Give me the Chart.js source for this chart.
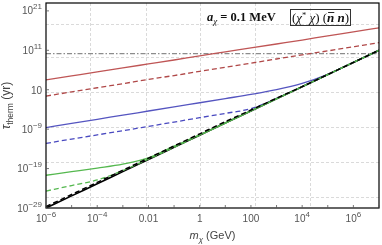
<!DOCTYPE html>
<html>
<head>
<meta charset="utf-8">
<script src="https://cdn.jsdelivr.net/npm/chart.js@4.4.0/dist/chart.umd.min.js"></script>
<style>
  html, body { margin: 0; padding: 0; background: #fff; }
</style>
</head>
<body>
<canvas id="myChart" width="382" height="245"></canvas>
<script>
// masses (GeV), one point per decade
const massGeV = [1e-6, 1e-5, 1e-4, 1e-3, 1e-2, 1e-1, 1, 10, 100, 1e3, 1e4, 1e5, 1e6, 1e7];

// thermalisation time (yr)
const redSolid    = [3.2e3, 3.2e4, 3.2e5, 3.5e6, 3.5e7, 3.5e8, 4e9, 4e10, 4e11, 4e12, 4e13, 4.5e14, 4.5e15, 5e16];
const redDashed   = [0.25, 2.8, 32, 350, 4e3, 4e4, 4.5e5, 5e6, 5.6e7, 6.3e8, 7e9, 7e10, 8e11, 9e12];
const blueSolid   = [2.5e-9, 2.8e-8, 3.2e-7, 3.5e-6, 4e-5, 4.5e-4, 5e-3, 0.056, 0.63, 10, 400, 8e4, 8.4e7, 1e11];
const blueDashed  = [2.5e-13, 3e-12, 3.5e-11, 4e-10, 5e-9, 6.3e-8, 8e-7, 1e-5, 1.6e-4, 0.063, 59, 7e4, 8.4e7, 1e11];
const greenSolid  = [2e-21, 1.6e-20, 1.3e-19, 1.3e-18, 5e-17, 5e-14, 3.5e-11, 3.5e-8, 4.2e-5, 0.05, 59, 7e4, 8.4e7, 1e11];
const greenDashed = [2e-25, 5e-24, 1.3e-22, 3.2e-20, 2.5e-17, 2.4e-14, 2.9e-11, 3.5e-8, 4.2e-5, 0.05, 59, 7e4, 8.4e7, 1e11];
const blackSolid  = [1e-29, 1.2e-26, 1.4e-23, 1.7e-20, 2e-17, 2.4e-14, 2.9e-11, 3.5e-8, 4.2e-5, 0.05, 59, 7e4, 8.4e7, 1e11];
const blackDashed = [2.2e-29, 2.6e-26, 3.1e-23, 3.8e-20, 4.5e-17, 5.4e-14, 6.5e-11, 7.8e-8, 7e-5, 0.07, 59, 7e4, 8.4e7, 1e11];

// age of the universe
const ageX = [1e-6, 1e7];
const ageY = [1.4e10, 1.4e10];

const xTicks = [1e-6, 1e-4, 0.01, 1, 100, 1e4, 1e6];
const xTickLabels = ['10^−6', '10^−4', '0.01', '1', '100', '10^4', '10^6'];
const yTicks = [1e-29, 1e-19, 1e-9, 10, 1e11, 1e21];
const yTickLabels = ['10^−29', '10^−19', '10^−9', '10', '10^11', '10^21'];
const xMinor = [1e-5, 1e-3, 0.1, 10, 1e3, 1e5, 1e7];
const xGrid = [5e-5, 8e-3, 1, 140, 2e4];
const yGrid = [6e-27, 5e-18, 4e-9, 2.5, 2e9, 5e17];

const SANS = '"Liberation Sans", Arial, sans-serif';
const SERIF = '"Liberation Serif", "Times New Roman", serif';

const pts = (xs, ys) => xs.map((x, i) => ({x: x, y: ys[i]}));

// draw a list of text pieces in a row, each with its own font / offset
function drawRuns(ctx, runs, x, y, align) {
    let total = 0;
    runs.forEach(r => { ctx.font = r.font; r.w = ctx.measureText(r.t).width; total += r.w; });
    let cx = align == 'center' ? x - total / 2 : (align == 'right' ? x - total : x);
    runs.forEach(r => {
        ctx.font = r.font;
        ctx.textAlign = 'left';
        ctx.fillText(r.t, cx, y + (r.dy || 0));
        if (r.over) {
            ctx.save();
            ctx.lineWidth = 0.9;
            ctx.beginPath();
            ctx.moveTo(cx + 1, y - 9);
            ctx.lineTo(cx + r.w, y - 9);
            ctx.stroke();
            ctx.restore();
        }
        cx += r.w;
    });
}

function powRuns(label) {
    const parts = label.split('^');
    const runs = [{t: parts[0], font: '10px ' + SANS}];
    if (parts[1]) runs.push({t: parts[1], font: '8px ' + SANS, dy: -5});
    return runs;
}

const framePlugin = {
    id: 'framePlugin',
    beforeDatasetsDraw(chart) {
        const {ctx, chartArea: a, scales: {x, y}} = chart;
        ctx.save();
        ctx.strokeStyle = '#dadada';
        ctx.lineWidth = 1;
        ctx.setLineDash([3, 2]);
        xGrid.forEach(v => {
            const px = Math.round(x.getPixelForValue(v)) + 0.5;
            ctx.beginPath(); ctx.moveTo(px, a.top); ctx.lineTo(px, a.bottom); ctx.stroke();
        });
        yGrid.forEach(v => {
            const py = Math.round(y.getPixelForValue(v)) + 0.5;
            ctx.beginPath(); ctx.moveTo(a.left, py); ctx.lineTo(a.right, py); ctx.stroke();
        });
        ctx.restore();
    },
    afterDraw(chart) {
        const {ctx, chartArea: a, scales: {x, y}} = chart;
        ctx.save();
        // frame
        ctx.strokeStyle = '#000';
        ctx.lineWidth = 1.2;
        ctx.strokeRect(a.left, a.top, a.right - a.left, a.bottom - a.top);

        // small inner ticks
        ctx.lineWidth = 0.8;
        ctx.strokeStyle = '#555';
        xTicks.concat(xMinor).forEach(v => {
            const px = x.getPixelForValue(v);
            ctx.beginPath(); ctx.moveTo(px, a.bottom); ctx.lineTo(px, a.bottom - 3); ctx.stroke();
        });
        yTicks.forEach(v => {
            const py = y.getPixelForValue(v);
            ctx.beginPath(); ctx.moveTo(a.left, py); ctx.lineTo(a.left + 3, py); ctx.stroke();
        });

        // tick labels
        ctx.fillStyle = '#555';
        ctx.textBaseline = 'alphabetic';
        xTicks.forEach((v, i) => {
            drawRuns(ctx, powRuns(xTickLabels[i]), x.getPixelForValue(v), 222, 'center');
        });
        yTicks.forEach((v, i) => {
            const off = yTickLabels[i].includes('^') ? 3.5 : 4.5;
            drawRuns(ctx, powRuns(yTickLabels[i]), 42, y.getPixelForValue(v) + off, 'right');
        });

        // axis titles
        ctx.fillStyle = '#444';
        drawRuns(ctx, [
            {t: 'm', font: 'italic 11px ' + SANS},
            {t: 'χ', font: 'italic 8px ' + SANS, dy: 2.5},
            {t: ' (GeV)', font: '11px ' + SANS}
        ], (a.left + a.right) / 2, 239, 'center');

        ctx.save();
        ctx.translate(10, (a.top + a.bottom) / 2);
        ctx.rotate(-Math.PI / 2);
        drawRuns(ctx, [
            {t: 'τ', font: 'italic 12px ' + SANS},
            {t: 'therm', font: '8.5px ' + SANS, dy: 2.5},
            {t: ' (yr)', font: '12px ' + SANS}
        ], 0, 0, 'center');
        ctx.restore();

        // annotation
        ctx.fillStyle = '#111';
        ctx.strokeStyle = '#111';
        drawRuns(ctx, [
            {t: 'a', font: 'bold italic 12.5px ' + SERIF},
            {t: 'χ', font: 'italic 9px ' + SERIF, dy: 3},
            {t: ' = 0.1 MeV', font: 'bold 12.5px ' + SERIF}
        ], 207, 21, 'left');

        ctx.lineWidth = 1;
        ctx.strokeStyle = '#333';
        ctx.strokeRect(290.5, 9.5, 60, 16);
        ctx.strokeStyle = '#111';
        drawRuns(ctx, [
            {t: '(', font: '13px ' + SERIF},
            {t: 'χ', font: 'italic 13px ' + SERIF},
            {t: '*', font: '8.5px ' + SERIF, dy: -4},
            {t: ' χ', font: 'italic 13px ' + SERIF},
            {t: ') (', font: '13px ' + SERIF},
            {t: 'n', font: 'bold italic 13px ' + SERIF, over: true},
            {t: ' n', font: 'bold italic 13px ' + SERIF},
            {t: ')', font: '13px ' + SERIF}
        ], 320.5, 21.5, 'center');
        ctx.restore();
    }
};

const line = (vals, color, dash, width, order) => ({
    data: pts(massGeV, vals),
    borderColor: color,
    borderDash: dash,
    borderWidth: width,
    order: order
});

let ctx = document.getElementById('myChart').getContext('2d');
new Chart(ctx, {
    type: 'line',
    data: {
        datasets: [
            line(blackDashed, '#000', [5, 3], 1.5, 0),
            line(greenSolid, '#55b84f', [], 1.3, 1),
            line(greenDashed, '#55b84f', [5, 3], 1.3, 2),
            line(blackSolid, '#000', [], 1.6, 3),
            line(blueSolid, '#5555c0', [], 1.3, 4),
            line(blueDashed, '#4a4ac0', [5, 3], 1.3, 5),
            line(redSolid, '#bf5555', [], 1.3, 6),
            line(redDashed, '#b04848', [5, 3], 1.3, 7),
            {
                data: pts(ageX, ageY),
                borderColor: '#8c8c8c',
                borderDash: [5, 2, 1.5, 2],
                borderWidth: 1.2,
                order: 8
            }
        ]
    },
    options: {
        responsive: false,
        animation: false,
        devicePixelRatio: 1,
        layout: { padding: { top: 3, right: 3, left: 0, bottom: 0 } },
        elements: {
            point: { radius: 0 },
            line: { cubicInterpolationMode: 'monotone', fill: false }
        },
        plugins: {
            legend: { display: false },
            tooltip: { enabled: false }
        },
        scales: {
            x: {
                type: 'logarithmic', min: 1e-6, max: 1e7,
                grid: { display: false }, border: { display: false },
                ticks: { display: false },
                afterFit: s => { s.height = 37; }
            },
            y: {
                type: 'logarithmic', min: 1e-29, max: 1e23,
                grid: { display: false }, border: { display: false },
                ticks: { display: false },
                afterFit: s => { s.width = 46; }
            }
        }
    },
    plugins: [framePlugin]
});
</script>
</body>
</html>
